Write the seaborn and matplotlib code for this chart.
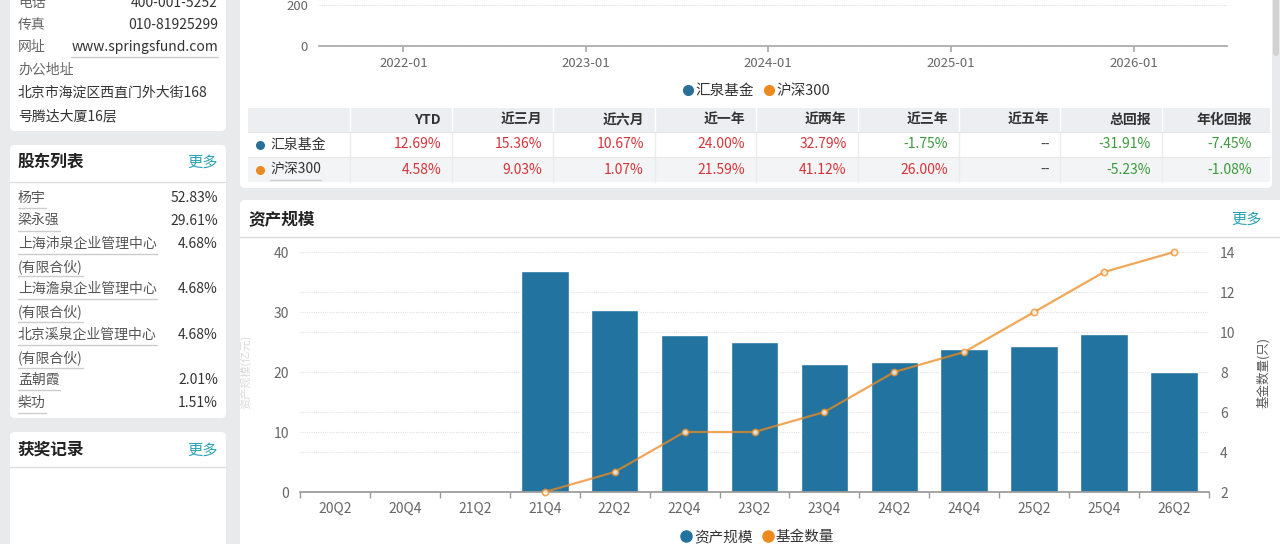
import numpy as np
import pandas as pd
import seaborn as sns
import matplotlib
matplotlib.use("Agg")
from matplotlib import pyplot as plt
from matplotlib.lines import Line2D
from matplotlib.patches import FancyBboxPatch, Rectangle

# ---- sidebar data
contact_labels = ["电话", "传真", "网址"]
contact_values = ["400-001-5252", "010-81925299", "www.springsfund.com"]
address_label = "办公地址"
address_lines = ["北京市海淀区西直门外大街168", "号腾达大厦16层"]

holder_names = ["杨宇", "梁永强", "上海沛泉企业管理中心", "上海澹泉企业管理中心",
                "北京溪泉企业管理中心", "孟朝霞", "柴功"]
holder_suffix = ["", "", "(有限合伙)", "(有限合伙)", "(有限合伙)", "", ""]
holder_pcts = ["52.83%", "29.61%", "4.68%", "4.68%", "4.68%", "2.01%", "1.51%"]

# ---- performance chart (only the bottom of it is visible)
nav_years = ["2022-01", "2023-01", "2024-01", "2025-01", "2026-01"]
nav_yticks = [0, 200]
series_names = ["汇泉基金", "沪深300"]

# ---- return table
periods = ["YTD", "近三月", "近六月", "近一年", "近两年", "近三年", "近五年", "总回报", "年化回报"]
fund_returns = [12.69, 15.36, 10.67, 24.00, 32.79, -1.75, None, -31.91, -7.45]
index_returns = [4.58, 9.03, 1.07, 21.59, 41.12, 26.00, None, -5.23, -1.08]

# ---- asset size chart
quarters = ["20Q2", "20Q4", "21Q2", "21Q4", "22Q2", "22Q4", "23Q2",
            "23Q4", "24Q2", "24Q4", "25Q2", "25Q4", "26Q2"]
asset_size = [np.nan, np.nan, np.nan, 36.8, 30.4, 26.2, 25.0,
              21.3, 21.6, 23.8, 24.4, 26.3, 20.0]
fund_count = [np.nan, np.nan, np.nan, 2, 3, 5, 5, 6, 8, 9, 11, 13, 14]

BLUE = "#22739f"
ORANGE = "#ec8a1f"
TEAL = "#2ba3b6"
RED = "#d6343a"
GREEN = "#3a9a3c"
GREY_BG = "#e9eaec"

sns.set_theme(style="white")
plt.rcParams["font.family"] = ["Noto Sans CJK SC", "DejaVu Sans"]

W, H = 1280, 544
fig = plt.figure(figsize=(W / 100, H / 100), dpi=100)
fig.patch.set_facecolor(GREY_BG)


def box(x0, y0, x1, y1):
    return [x0 / W, 1 - y1 / H, (x1 - x0) / W, (y1 - y0) / H]


bg = fig.add_axes([0, 0, 1, 1])
bg.set_xlim(0, W)
bg.set_ylim(H, 0)
bg.set_autoscale_on(False)
bg.axis("off")

renderer = fig.canvas.get_renderer()
inv = bg.transData.inverted()


def panel(x0, y0, x1, y1):
    bg.add_patch(FancyBboxPatch((x0, y0), x1 - x0, y1 - y0,
                                boxstyle="round,pad=0,rounding_size=5",
                                fc="white", ec="none"))


def underlined(x, y, s, **kw):
    t = bg.text(x, y, s, va="center", **kw)
    bb = t.get_window_extent(renderer)
    (a, _), (b, _) = inv.transform([[bb.x0, bb.y0], [bb.x1, bb.y1]])
    bg.plot([a, b], [y + 10, y + 10], color="#cccccc", lw=1)


# panels
panel(10, -10, 226, 131)
panel(10, 145, 226, 418)
panel(10, 432, 226, 570)
panel(240, -10, 1272, 188)
panel(240, 200, 1295, 570)
bg.add_patch(FancyBboxPatch((1273, -6), 6, 62, boxstyle="round,pad=0,rounding_size=3",
                            fc="#d2d2d2", ec="none"))

# ---- sidebar contact info
for i, (lab, val) in enumerate(zip(contact_labels, contact_values)):
    y = 3 + i * 22
    bg.text(18, y, lab, va="center", fontsize=10, color="#666666")
    if lab == "网址":
        underlined(218, y, val, ha="right", fontsize=10, color="#333333")
    else:
        bg.text(218, y, val, va="center", ha="right", fontsize=10, color="#333333")
bg.text(18, 70, address_label, va="center", fontsize=10, color="#666666")
for i, line in enumerate(address_lines):
    bg.text(18, 93 + i * 23, line, va="center", fontsize=10, color="#333333")

# ---- sidebar shareholders
bg.text(18, 162, "股东列表", va="center", fontsize=12, fontweight="bold", color="#222222")
bg.text(218, 162, "更多", va="center", ha="right", fontsize=11, color=TEAL)
bg.plot([10, 226], [182, 182], color="#dddddd", lw=1)
y = 198
for name, suf, pct in zip(holder_names, holder_suffix, holder_pcts):
    underlined(18, y, name, fontsize=10, color="#555555")
    bg.text(218, y, pct, va="center", ha="right", fontsize=10, color="#333333")
    y += 22.8
    if suf:
        underlined(18, y, suf, fontsize=10, color="#555555")
        y += 22.8

bg.text(18, 450, "获奖记录", va="center", fontsize=12, fontweight="bold", color="#222222")
bg.text(218, 450, "更多", va="center", ha="right", fontsize=11, color=TEAL)
bg.plot([10, 226], [467, 467], color="#dddddd", lw=1)

# ---- performance chart stub
ax_nav = fig.add_axes(box(319, 0, 1227, 46))
ax_nav.set_facecolor("none")
year_dates = pd.to_datetime(nav_years)
ax_nav.set_xlim(pd.Timestamp("2021-07-16"), pd.Timestamp("2026-07-07"))
ax_nav.set_ylim(0, 200 * 46 / 41)
ax_nav.set_xticks(year_dates)
ax_nav.set_xticklabels(nav_years)
ax_nav.set_yticks(nav_yticks)
ax_nav.yaxis.grid(True, ls=(0, (1, 1)), color="#e0e0e0", lw=0.8)
for s in ["top", "right", "left"]:
    ax_nav.spines[s].set_visible(False)
ax_nav.spines["bottom"].set_color("#aaaaaa")
ax_nav.tick_params(axis="x", length=4, color="#aaaaaa", labelsize=9.5,
                   labelcolor="#666666", pad=4, bottom=True)
ax_nav.tick_params(axis="y", length=0, labelsize=9.5, labelcolor="#666666", pad=8)
nav_colors = ["#2a6f97", ORANGE]
fig.legend(handles=[Line2D([], [], marker="o", ls="", color=c, markersize=7) for c in nav_colors],
           labels=series_names, loc="center", bbox_to_anchor=(756 / W, 1 - 91 / H), ncol=2,
           frameon=False, fontsize=10.5, handletextpad=0.05, columnspacing=0.6,
           handlelength=0.9, labelcolor="#333333")

# ---- return table
tx0, tx1 = 248, 1270
rows_y = [(108, 132), (132, 157), (157, 182)]
row_fill = ["#eceef1", "#ffffff", "#f3f4f5"]
for (a, b), fc in zip(rows_y, row_fill):
    bg.add_patch(Rectangle((tx0, a), tx1 - tx0, b - a, fc=fc, ec="none"))
col_right = 441 + 101.4 * np.arange(len(periods))
dividers = [350] + list(col_right[:-1] + 11)
for k, (a, b) in enumerate(rows_y):
    for d in dividers:
        bg.plot([d, d], [a, b], color="white" if k == 0 else "#ececec", lw=1)
for (a, b) in rows_y[1:]:
    bg.plot([tx0, tx1], [a, a], color="#e6e6e6", lw=0.8)
for p, xr in zip(periods, col_right):
    bg.text(xr, 120, p, ha="right", va="center", fontsize=10, fontweight="bold", color="#333333")
for k, (name, vals) in enumerate(zip(series_names, [fund_returns, index_returns])):
    yc = (rows_y[k + 1][0] + rows_y[k + 1][1]) / 2
    bg.scatter([260], [yc], s=30, color=nav_colors[k], zorder=3)
    if k == 1:
        underlined(270, yc, name, fontsize=10, color="#333333")
    else:
        bg.text(270, yc, name, va="center", fontsize=10, color="#333333")
    for v, xr in zip(vals, col_right):
        if v is None:
            bg.text(xr, yc, "--", ha="right", va="center", fontsize=10, color="#444444")
        else:
            bg.text(xr, yc, f"{v:.2f}%", ha="right", va="center", fontsize=10,
                    color=RED if v >= 0 else GREEN)

# ---- asset size chart
bg.text(248, 219, "资产规模", va="center", fontsize=12, fontweight="bold", color="#222222")
bg.text(1262, 219, "更多", va="center", ha="right", fontsize=11, color=TEAL)
bg.plot([240, 1280], [237, 237], color="#dcdcdc", lw=1)
bg.text(246, 372, "资产规模(亿元)", rotation=90, ha="center", va="center",
        fontsize=8, color="#dadada")

df = pd.DataFrame({"quarter": quarters, "asset": asset_size, "count": fund_count})
df["pos"] = np.arange(len(df))

ax = fig.add_axes(box(300, 252, 1209, 492))
ax.set_facecolor("none")
sns.barplot(data=df, x="quarter", y="asset", order=quarters, color=BLUE, saturation=1,
            width=0.68, errorbar=None, ax=ax)
ax.set(xlabel="", ylabel="")
ax.set_xlim(-0.5, len(quarters) - 0.5)
lo1, hi1 = 0, 40
lo2, hi2 = 2, 14
ax.set_ylim(lo1, hi1)
ax.set_yticks(np.arange(0, 41, 10))
right_ticks = np.arange(2, 15, 2)
ax.set_yticks((right_ticks - lo2) / (hi2 - lo2) * (hi1 - lo1) + lo1, minor=True)
ax.set_xticks(np.arange(-0.5, len(quarters)), minor=True)
ax.yaxis.grid(True, which="both", ls=(0, (1, 1)), color="#e0e0e0", lw=0.8)
ax.set_axisbelow(True)
for s in ["top", "right", "left"]:
    ax.spines[s].set_visible(False)
ax.spines["bottom"].set_color("#999999")
ax.tick_params(axis="x", which="major", length=0, pad=7, labelsize=10, labelcolor="#666666")
ax.tick_params(axis="x", which="minor", length=4, color="#999999", bottom=True)
ax.tick_params(axis="y", which="both", length=0, pad=8, labelsize=10, labelcolor="#666666")

ax2 = ax.twinx()
sns.lineplot(data=df, x="pos", y="count", ax=ax2, color=ORANGE, lw=1.6, alpha=0.75,
             marker="o", markersize=4.5, markerfacecolor="white",
             markeredgecolor=ORANGE, markeredgewidth=1.2, clip_on=False)
ax2.set_xlim(-0.5, len(quarters) - 0.5)
ax2.set_ylim(lo2, hi2)
ax2.set_yticks(right_ticks)
ax2.set(xlabel="")
for s in ax2.spines.values():
    s.set_visible(False)
ax2.tick_params(axis="y", length=0, pad=8, labelsize=10, labelcolor="#666666")
ax2.set_ylabel("基金数量(只)", fontsize=9, color="#555555")
ax2.yaxis.set_label_coords((1257 - 300) / 909, 0.5)

fig.legend(handles=[Line2D([], [], marker="o", ls="", color=c, markersize=8) for c in [BLUE, ORANGE]],
           labels=["资产规模", "基金数量"], loc="center", bbox_to_anchor=(757 / W, 1 - 537 / H),
           ncol=2, frameon=False, fontsize=10.5, handletextpad=0.1, columnspacing=0.6,
           handlelength=0.9, labelcolor="#333333")

fig.savefig("out.png", dpi=100, facecolor=fig.get_facecolor())
